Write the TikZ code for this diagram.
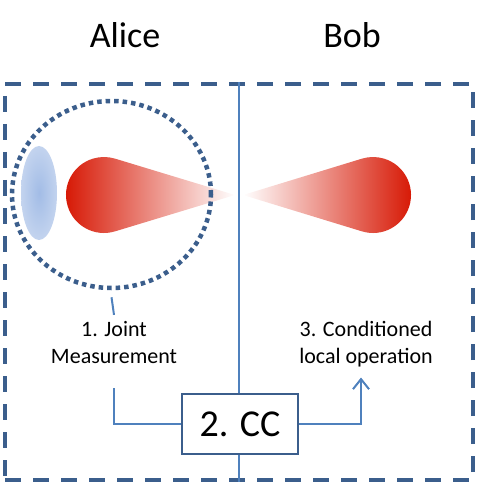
\documentclass[tikz,border=0pt]{standalone}
\usepackage{fontspec}
\setmainfont{Carlito}
\usetikzlibrary{arrows.meta,shapes.geometric,calc}
\definecolor{darkblue}{RGB}{59,94,140}
\definecolor{lineblue}{RGB}{79,129,189}
\definecolor{dropred}{RGB}{214,20,0}
\definecolor{lensin}{RGB}{162,188,230}
\definecolor{lensout}{RGB}{228,235,247}
\pgfdeclareradialshading{lensshade}{\pgfpointorigin}{color(0bp)=(lensin); color(50bp)=(lensout)}

\begin{document}
\begin{tikzpicture}[x=1pt,y=-1pt,line width=2pt,
  big/.style={font=\fontsize{36}{43}\selectfont,anchor=base,inner sep=0},
  small/.style={font=\fontsize{22}{27}\selectfont,align=center,anchor=base,inner sep=0},
  conn/.style={draw=lineblue,line width=2pt}]
\useasboundingbox (0,0) rectangle (480,486);
% box round both parties
\node[draw=darkblue,line width=4pt,dash pattern=on 16pt off 12pt,minimum width=468pt,minimum height=396pt,inner sep=0] (frame) at (239,282) {};
\draw[conn] (frame.north) -- (frame.south);
\node[big] (alice) at (125,48) {Alice};\node[big] (bob) at (352,48) {Bob};
% lens and beams
\shade[shading=lensshade] (39,193) ellipse [x radius=18,y radius=47];
\shade[left color=dropred,right color=white] (235,195) -- ($(104,195)+(73.1:38)$) arc[start angle=73.1,end angle=286.9,radius=38] -- cycle;
\shade[left color=white,right color=dropred] (243,195) -- ($(373,195)+(107:38)$) arc[start angle=107,end angle=-107,radius=38] -- cycle;
\node[draw=darkblue,line width=4.5pt,dash pattern=on 4.5pt off 4pt,ellipse,minimum width=199pt,minimum height=187pt,inner sep=0] (jm) at (111.5,194.5) {};
% steps
\node[small] (meas) at (114,363) {1. Joint\\Measurement};
\node[small] (cond) at (366,363) {3. Conditioned\\local operation};
\node[draw=darkblue,line width=1.5pt,fill=white,minimum width=116pt,minimum height=60pt,font=\fontsize{38}{46}\selectfont] (cc) at (240,424) {2. CC};
\draw[conn] ([yshift=-7pt]jm.south) -- ([yshift=5pt]meas.north);
\draw[conn] ([yshift=-24pt]meas.south) |- (cc.west);
\draw[conn,-{Straight Barb[length=10pt,width=16pt]}] (cc.east) -| ([xshift=-5pt,yshift=-10pt]cond.south);
\end{tikzpicture}
\end{document}
